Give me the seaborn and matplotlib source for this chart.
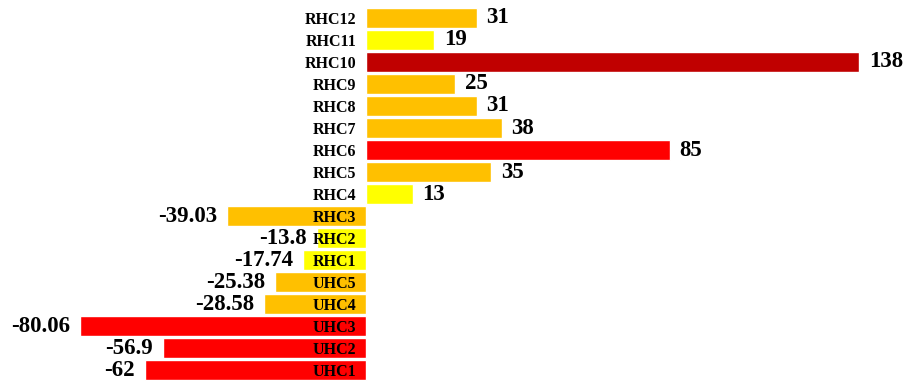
import pandas as pd
import seaborn as sns
import matplotlib.pyplot as plt

# categories top -> bottom, values and bar colours
categories = ['RHC12', 'RHC11', 'RHC10', 'RHC9', 'RHC8', 'RHC7', 'RHC6', 'RHC5', 'RHC4',
              'RHC3', 'RHC2', 'RHC1', 'UHC5', 'UHC4', 'UHC3', 'UHC2', 'UHC1']
values = [31, 19, 138, 25, 31, 38, 85, 35, 13,
          -39.03, -13.8, -17.74, -25.38, -28.58, -80.06, -56.9, -62]
bar_colors = ['#FFC000', '#FFFF00', '#C00000', '#FFC000', '#FFC000', '#FFC000', '#FF0000', '#FFC000', '#FFFF00',
              '#FFC000', '#FFFF00', '#FFFF00', '#FFC000', '#FFC000', '#FF0000', '#FF0000', '#FF0000']

df = pd.DataFrame({'cat': categories, 'val': values})

sns.set_style('white')
plt.rcParams['font.family'] = ['Liberation Serif', 'DejaVu Serif']

fig = plt.figure(figsize=(9.04, 3.82), dpi=100)
ax = fig.add_axes([0, 0, 1, 1])

sns.barplot(data=df, x='val', y='cat', hue='cat', palette=dict(zip(categories, bar_colors)),
            order=categories, legend=False, width=0.92, saturation=1, orient='h', ax=ax)

# value labels just past the end of each bar
for i, v in enumerate(values):
    ax.annotate(f'{v:g}', (v, i), xytext=(7 if v > 0 else -7, 0), textcoords='offset points',
                ha='left' if v > 0 else 'right', va='center',
                fontsize=16.5, fontweight='bold', color='black')

ax.set_xlim(-102.5, 150.6)
ax.set_ylim(16.545, -0.818)

# category names sit at the zero line, drawn on top of the bars
ax.set_axisbelow(False)
for s in ax.spines.values():
    s.set_visible(False)
ax.spines['left'].set_position(('data', 0))
ax.tick_params(axis='y', length=0, pad=7, labelcolor='black')
for t in ax.get_yticklabels():
    t.set_fontsize(11.5)
    t.set_fontweight('bold')
ax.set_xticks([])
ax.set_xlabel('')
ax.set_ylabel('')

fig.savefig('out.png', dpi=100)
